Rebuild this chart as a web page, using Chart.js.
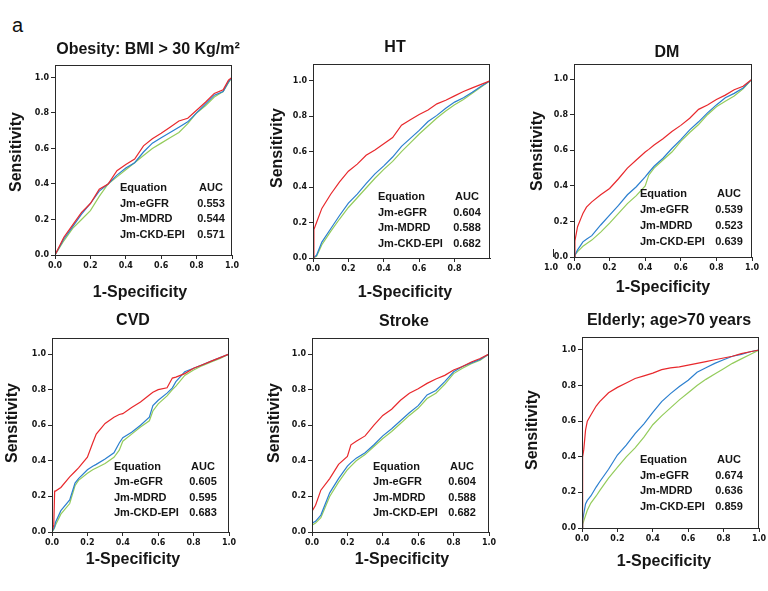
<!DOCTYPE html>
<html>
<head>
<meta charset="utf-8">
<title>ROC curves</title>
<script src="https://cdn.jsdelivr.net/npm/chart.js@4.4.1/dist/chart.umd.min.js"></script>
<style>
    html, body { margin: 0; padding: 0; background: #fff; }
    #page { position: relative; width: 768px; height: 591px; overflow: hidden; background: #fff; }
    #page canvas { position: absolute; }
    .panel-letter {
        position: absolute; left: 12px; top: 15px;
        font: 20px/20px "Liberation Sans", Arial, sans-serif; color: #111;
    }
</style>
</head>
<body>
<div id="page"><div class="panel-letter">a</div></div>
<script>
// ==================== Data ====================

const xTicks = [0, 0.2, 0.4, 0.6, 0.8, 1.0];
const xTicksHT = [0, 0.2, 0.4, 0.6, 0.8];
const yTicks = [0, 0.2, 0.4, 0.6, 0.8, 1.0];
const equations = ['Jm-eGFR', 'Jm-MDRD', 'Jm-CKD-EPI'];

// Obesity: BMI > 30
const obesityFpr    = [0, 0.05, 0.1, 0.15, 0.2, 0.25, 0.3, 0.35, 0.4, 0.45, 0.5, 0.55, 0.6, 0.65, 0.7, 0.75, 0.8, 0.85, 0.9, 0.95, 0.98, 1.0];
const obesityCkdEpi = [0, 0.10, 0.17, 0.24, 0.29, 0.37, 0.40, 0.475, 0.51, 0.54, 0.615, 0.655, 0.685, 0.72, 0.755, 0.77, 0.815, 0.86, 0.91, 0.93, 0.985, 1.0];
const obesityEgfr   = [0, 0.09, 0.16, 0.23, 0.29, 0.36, 0.40, 0.45, 0.49, 0.52, 0.58, 0.63, 0.66, 0.69, 0.72, 0.75, 0.80, 0.85, 0.90, 0.92, 0.975, 1.0];
const obesityMdrd   = [0, 0.08, 0.15, 0.20, 0.25, 0.33, 0.40, 0.44, 0.48, 0.52, 0.56, 0.60, 0.63, 0.66, 0.69, 0.74, 0.80, 0.84, 0.89, 0.92, 0.97, 1.0];
const obesityAuc    = ['0.553', '0.544', '0.571'];

// HT
const htFpr    = [0, 0.005, 0.02, 0.05, 0.1, 0.15, 0.2, 0.25, 0.3, 0.35, 0.4, 0.45, 0.5, 0.55, 0.6, 0.65, 0.7, 0.75, 0.8, 0.85, 0.9, 0.95, 1.0];
const htCkdEpi = [0, 0.16, 0.20, 0.28, 0.36, 0.43, 0.49, 0.53, 0.58, 0.61, 0.645, 0.68, 0.75, 0.78, 0.81, 0.835, 0.87, 0.89, 0.915, 0.94, 0.96, 0.98, 1.0];
const htEgfr   = [0, 0, 0.015, 0.09, 0.165, 0.24, 0.31, 0.36, 0.42, 0.475, 0.52, 0.57, 0.63, 0.675, 0.72, 0.77, 0.805, 0.845, 0.88, 0.905, 0.935, 0.97, 1.0];
const htMdrd   = [0, 0, 0.01, 0.075, 0.15, 0.22, 0.285, 0.34, 0.395, 0.45, 0.50, 0.545, 0.60, 0.65, 0.70, 0.745, 0.79, 0.83, 0.865, 0.895, 0.93, 0.965, 1.0];
const htAuc    = ['0.604', '0.588', '0.682'];

// DM
const dmFpr    = [0, 0.005, 0.02, 0.04, 0.05, 0.07, 0.1, 0.15, 0.2, 0.25, 0.3, 0.35, 0.4, 0.42, 0.45, 0.5, 0.55, 0.6, 0.65, 0.7, 0.75, 0.8, 0.85, 0.9, 0.95, 1.0];
const dmCkdEpi = [0, 0.09, 0.17, 0.22, 0.245, 0.28, 0.31, 0.35, 0.385, 0.44, 0.50, 0.545, 0.59, 0.605, 0.63, 0.665, 0.705, 0.74, 0.78, 0.83, 0.855, 0.885, 0.91, 0.94, 0.96, 1.0];
const dmEgfr   = [0, 0.01, 0.04, 0.07, 0.085, 0.10, 0.12, 0.18, 0.235, 0.29, 0.35, 0.395, 0.45, 0.475, 0.51, 0.555, 0.61, 0.66, 0.715, 0.76, 0.81, 0.855, 0.895, 0.92, 0.95, 1.0];
const dmMdrd   = [0, 0.01, 0.03, 0.05, 0.06, 0.075, 0.095, 0.14, 0.19, 0.245, 0.30, 0.345, 0.40, 0.46, 0.50, 0.545, 0.59, 0.65, 0.70, 0.745, 0.80, 0.845, 0.875, 0.905, 0.945, 1.0];
const dmAuc    = ['0.539', '0.523', '0.639'];

// CVD
const cvdFpr    = [0, 0.01, 0.015, 0.02, 0.05, 0.1, 0.13, 0.15, 0.2, 0.23, 0.25, 0.3, 0.35, 0.38, 0.4, 0.45, 0.5, 0.55, 0.57, 0.6, 0.65, 0.68, 0.7, 0.75, 0.8, 0.85, 0.9, 0.95, 1.0];
const cvdCkdEpi = [0, 0.04, 0.23, 0.23, 0.25, 0.31, 0.34, 0.36, 0.42, 0.50, 0.55, 0.61, 0.645, 0.66, 0.665, 0.70, 0.73, 0.77, 0.785, 0.80, 0.81, 0.865, 0.87, 0.89, 0.92, 0.94, 0.96, 0.98, 1.0];
const cvdEgfr   = [0, 0.02, 0.03, 0.055, 0.12, 0.18, 0.275, 0.30, 0.35, 0.37, 0.38, 0.41, 0.445, 0.50, 0.53, 0.56, 0.60, 0.645, 0.71, 0.74, 0.78, 0.81, 0.845, 0.90, 0.92, 0.94, 0.96, 0.98, 1.0];
const cvdMdrd   = [0, 0.015, 0.025, 0.04, 0.10, 0.16, 0.26, 0.29, 0.33, 0.35, 0.36, 0.385, 0.42, 0.46, 0.51, 0.55, 0.59, 0.625, 0.68, 0.72, 0.765, 0.80, 0.82, 0.88, 0.91, 0.935, 0.955, 0.975, 1.0];
const cvdAuc    = ['0.605', '0.595', '0.683'];

// Stroke
const strokeFpr    = [0, 0.002, 0.02, 0.05, 0.1, 0.15, 0.2, 0.22, 0.25, 0.3, 0.35, 0.4, 0.45, 0.5, 0.55, 0.6, 0.65, 0.7, 0.75, 0.8, 0.85, 0.9, 0.95, 1.0];
const strokeCkdEpi = [0, 0.12, 0.15, 0.235, 0.30, 0.38, 0.425, 0.49, 0.51, 0.54, 0.60, 0.655, 0.69, 0.74, 0.78, 0.805, 0.835, 0.86, 0.88, 0.91, 0.93, 0.955, 0.975, 1.0];
const strokeEgfr   = [0, 0.05, 0.06, 0.095, 0.22, 0.30, 0.37, 0.39, 0.415, 0.445, 0.49, 0.54, 0.58, 0.625, 0.67, 0.71, 0.77, 0.795, 0.845, 0.90, 0.93, 0.95, 0.97, 1.0];
const strokeMdrd   = [0, 0.04, 0.05, 0.08, 0.20, 0.28, 0.35, 0.37, 0.40, 0.435, 0.48, 0.525, 0.565, 0.61, 0.655, 0.695, 0.75, 0.78, 0.83, 0.89, 0.92, 0.945, 0.965, 1.0];
const strokeAuc    = ['0.604', '0.588', '0.682'];

// Elderly; age > 70
const elderlyFpr    = [0, 0.002, 0.005, 0.01, 0.02, 0.03, 0.05, 0.08, 0.1, 0.15, 0.2, 0.25, 0.3, 0.35, 0.4, 0.45, 0.5, 0.55, 0.6, 0.65, 0.7, 0.75, 0.8, 0.85, 0.9, 0.95, 1.0];
const elderlyCkdEpi = [0, 0.34, 0.40, 0.44, 0.55, 0.60, 0.635, 0.685, 0.71, 0.76, 0.79, 0.815, 0.84, 0.855, 0.87, 0.89, 0.90, 0.905, 0.915, 0.925, 0.935, 0.945, 0.955, 0.965, 0.98, 0.99, 1.0];
const elderlyEgfr   = [0, 0.02, 0.04, 0.08, 0.135, 0.155, 0.18, 0.23, 0.26, 0.33, 0.41, 0.465, 0.53, 0.585, 0.65, 0.71, 0.755, 0.795, 0.83, 0.875, 0.90, 0.925, 0.945, 0.965, 0.975, 0.99, 1.0];
const elderlyMdrd   = [0, 0.01, 0.02, 0.04, 0.07, 0.10, 0.14, 0.18, 0.21, 0.28, 0.34, 0.40, 0.45, 0.51, 0.58, 0.63, 0.675, 0.72, 0.76, 0.80, 0.835, 0.865, 0.895, 0.925, 0.95, 0.975, 1.0];
const elderlyAuc    = ['0.674', '0.636', '0.859'];

// ==================== Styles & layout ====================

const RED = '#e8282c';
const BLUE = '#2b7fcf';
const GREEN = '#94cc5c';
const INK = '#151515';
const FRAME = '#2a2a2a';
const SANS = '"Liberation Sans", Arial, sans-serif';

// canvas margins around the plot box
const AXIS_W = 60;
const AXIS_H = 48;
const PAD_TOP = 42;
const PAD_RIGHT = 14;

// plot box [left, top, right, bottom] in page pixels, text offsets relative to it
const panels = [
    { title: 'Obesity: BMI > 30 Kg/m\u00b2', fpr: obesityFpr, ckd: obesityCkdEpi, egfr: obesityEgfr, mdrd: obesityMdrd, auc: obesityAuc, xTicks: xTicks,
      plot: [55, 65, 232, 255], yMax: 1.07, titleAt: [93, -15], yTitleAt: [-38, 87], xTitleAt: [85, 38], table: [65, 156, -67, 15.6] },
    { title: 'HT', fpr: htFpr, ckd: htCkdEpi, egfr: htEgfr, mdrd: htMdrd, auc: htAuc, xTicks: xTicksHT,
      plot: [313, 64, 490, 258], yMax: 1.095, titleAt: [82, -16], yTitleAt: [-35, 84], xTitleAt: [92, 35], table: [65, 154, -61, 15.7] },
    { title: 'DM', fpr: dmFpr, ckd: dmCkdEpi, egfr: dmEgfr, mdrd: dmMdrd, auc: dmAuc, xTicks: xTicks,
      plot: [574, 64, 752, 257], yMax: 1.085, titleAt: [93, -11], yTitleAt: [-36, 87], xTitleAt: [89, 31], table: [66, 155, -63, 16], stray: true },
    { title: 'CVD', fpr: cvdFpr, ckd: cvdCkdEpi, egfr: cvdEgfr, mdrd: cvdMdrd, auc: cvdAuc, xTicks: xTicks,
      plot: [52, 338, 229, 532], yMax: 1.09, titleAt: [81, -17], yTitleAt: [-39, 85], xTitleAt: [81, 28], table: [62, 151, -65, 15.3] },
    { title: 'Stroke', fpr: strokeFpr, ckd: strokeCkdEpi, egfr: strokeEgfr, mdrd: strokeMdrd, auc: strokeAuc, xTicks: xTicks,
      plot: [312, 338, 489, 532], yMax: 1.09, titleAt: [92, -16], yTitleAt: [-37, 85], xTitleAt: [90, 28], table: [61, 150, -65, 15.3] },
    { title: 'Elderly; age>70 years', fpr: elderlyFpr, ckd: elderlyCkdEpi, egfr: elderlyEgfr, mdrd: elderlyMdrd, auc: elderlyAuc, xTicks: xTicks,
      plot: [582, 337, 759, 528], yMax: 1.073, titleAt: [87, -16], yTitleAt: [-49, 93], xTitleAt: [82, 34], table: [58, 147, -68, 15.7] }
];

// ==================== Chart helpers ====================

/**
 * x/y arrays -> point objects
 */
function toPoints(xs, ys) {
    return xs.map((x, i) => ({ x: x, y: ys[i] }));
}

/**
 * Frame, titles and AUC table drawn around the plot box
 */
const rocDecorPlugin = {
    id: 'rocDecor',
    afterDraw(chart, args, opts) {
        const p = opts.panel;
        if (!p) return;
        const { ctx, chartArea: ca } = chart;
        const L = ca.left, B = ca.bottom;

        ctx.save();
        ctx.strokeStyle = FRAME;
        ctx.lineWidth = 1;
        ctx.strokeRect(Math.round(ca.left) + 0.5, Math.round(ca.top) + 0.5,
            Math.round(ca.right - ca.left) - 1, Math.round(ca.bottom - ca.top));

        ctx.fillStyle = INK;
        ctx.textBaseline = 'middle';
        ctx.textAlign = 'center';
        ctx.font = 'bold 16px ' + SANS;
        ctx.fillText(p.title, L + p.titleAt[0], ca.top + p.titleAt[1]);
        ctx.fillText('1-Specificity', L + p.xTitleAt[0], B + p.xTitleAt[1]);

        ctx.save();
        ctx.translate(L + p.yTitleAt[0], ca.top + p.yTitleAt[1]);
        ctx.rotate(-Math.PI / 2);
        ctx.fillText('Sensitivity', 0, 0);
        ctx.restore();

        // AUC table
        const [eqX, aucX, topY, step] = p.table;
        ctx.font = 'bold 11px ' + SANS;
        ctx.textAlign = 'left';
        ctx.fillText('Equation', L + eqX, B + topY);
        equations.forEach((name, i) => ctx.fillText(name, L + eqX, B + topY + step * (i + 1)));
        ctx.textAlign = 'center';
        ctx.fillText('AUC', L + aucX, B + topY);
        p.auc.forEach((v, i) => ctx.fillText(v, L + aucX, B + topY + step * (i + 1)));

        // stray "1.0" left of the DM x axis, as in the source figure
        if (p.stray) {
            ctx.font = 'bold 8px "DejaVu Sans", sans-serif';
            ctx.textBaseline = 'top';
            ctx.fillText('1.0', L - 23, B + 7);
            ctx.beginPath();
            ctx.moveTo(Math.round(L - 21) + 0.5, B - 8);
            ctx.lineTo(Math.round(L - 21) + 0.5, B);
            ctx.stroke();
        }
        ctx.restore();
    }
};

/**
 * One ROC panel
 */
function buildPanel(p) {
    const [L, T, R, B] = p.plot;
    const canvas = document.createElement('canvas');
    canvas.width = (R - L) + AXIS_W + PAD_RIGHT;
    canvas.height = (B - T) + PAD_TOP + AXIS_H;
    canvas.style.left = (L - AXIS_W) + 'px';
    canvas.style.top = (T - PAD_TOP) + 'px';
    document.getElementById('page').appendChild(canvas);

    const tickFont = { family: '"DejaVu Sans", sans-serif', size: 8, weight: 'bold' };
    const line = color => ({ borderColor: color, borderWidth: 1.2, pointRadius: 0, fill: false, tension: 0 });

    return new Chart(canvas, {
        type: 'line',
        data: {
            datasets: [
                { label: 'Jm-CKD-EPI', data: toPoints(p.fpr, p.ckd), ...line(RED) },
                { label: 'Jm-eGFR', data: toPoints(p.fpr, p.egfr), ...line(BLUE) },
                { label: 'Jm-MDRD', data: toPoints(p.fpr, p.mdrd), ...line(GREEN) }
            ]
        },
        options: {
            responsive: false,
            animation: false,
            events: [],
            layout: { padding: { top: PAD_TOP, right: PAD_RIGHT, left: 0, bottom: 0 } },
            scales: {
                x: {
                    type: 'linear', min: 0, max: 1,
                    afterBuildTicks: axis => { axis.ticks = p.xTicks.map(v => ({ value: v })); },
                    afterFit: axis => { axis.height = AXIS_H; },
                    grid: { drawOnChartArea: false, drawTicks: true, tickLength: 4, color: FRAME },
                    border: { display: true, color: FRAME, width: 1 },
                    ticks: { font: tickFont, color: INK, padding: 2, maxRotation: 0, autoSkip: false,
                             callback: v => Number(v).toFixed(1) }
                },
                y: {
                    type: 'linear', min: 0, max: p.yMax,
                    afterBuildTicks: axis => { axis.ticks = yTicks.map(v => ({ value: v })); },
                    afterFit: axis => { axis.width = AXIS_W; },
                    grid: { drawOnChartArea: false, drawTicks: true, tickLength: 4, color: FRAME },
                    border: { display: true, color: FRAME, width: 1 },
                    ticks: { font: tickFont, color: INK, padding: 2, autoSkip: false,
                             callback: v => Number(v).toFixed(1) }
                }
            },
            plugins: {
                legend: { display: false },
                tooltip: { enabled: false },
                rocDecor: { panel: p }
            }
        },
        plugins: [rocDecorPlugin]
    });
}

panels.forEach(buildPanel);
</script>
</body>
</html>
